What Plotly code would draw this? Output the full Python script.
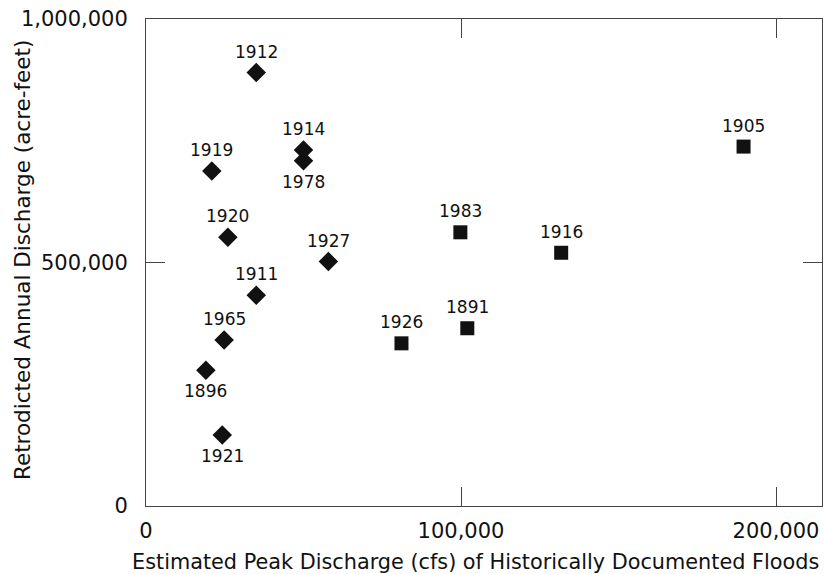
import plotly.graph_objects as go

# Diamonds
d_years = ["1912", "1914", "1978", "1919", "1920", "1927", "1911", "1965", "1896", "1921"]
d_peak = [35000, 50000, 50000, 20900, 26000, 57900, 35000, 24800, 19000, 24200]
d_annual = [890000, 731000, 709000, 688000, 552000, 502000, 433000, 341000, 279000, 146000]
d_pos = ["above", "above", "below", "above", "above", "above", "above", "above", "below", "below"]

# Squares
s_years = ["1905", "1983", "1916", "1891", "1926"]
s_peak = [189700, 99800, 131800, 102000, 81100]
s_annual = [738000, 562000, 520000, 365000, 334000]
s_pos = ["above", "above", "above", "above", "above"]

x_ticks = [0, 100000, 200000]
x_labels = ["0", "100,000", "200,000"]
y_ticks = [0, 500000, 1000000]
y_labels = ["0", "500,000", "1,000,000"]

x_title = "Estimated Peak Discharge (cfs) of Historically Documented Floods"
y_title = "Retrodicted Annual Discharge (acre-feet)"

FONT = "DejaVu Sans"
INK = "#111111"

fig = go.Figure()
fig.add_trace(go.Scatter(x=d_peak, y=d_annual, mode="markers",
                         marker=dict(symbol="diamond", size=15, color=INK),
                         showlegend=False, hoverinfo="skip"))
fig.add_trace(go.Scatter(x=s_peak, y=s_annual, mode="markers",
                         marker=dict(symbol="square", size=14, color=INK),
                         showlegend=False, hoverinfo="skip"))

annotations = []
for yrs, xs, ys, pos in [(d_years, d_peak, d_annual, d_pos), (s_years, s_peak, s_annual, s_pos)]:
    for t, xv, yv, p in zip(yrs, xs, ys, pos):
        annotations.append(dict(x=xv, y=yv, xref="x", yref="y", text=t, showarrow=False,
                                yshift=21 if p == "above" else -21,
                                font=dict(family=FONT, size=17, color=INK)))

# axis titles
annotations.append(dict(x=0.487, y=0, xref="paper", yref="paper", text=x_title,
                        showarrow=False, xanchor="center", yanchor="middle", yshift=-56,
                        font=dict(family=FONT, size=20.8, color=INK)))
annotations.append(dict(x=0, y=0.505, xref="paper", yref="paper", text=y_title,
                        showarrow=False, xanchor="center", yanchor="middle", xshift=-124,
                        textangle=-90, font=dict(family=FONT, size=21.5, color=INK)))

axis_common = dict(showline=True, linecolor="#444444", linewidth=1, mirror="ticks",
                   ticks="inside", ticklen=19, tickcolor="#444444", tickwidth=1,
                   showgrid=False, zeroline=False, automargin=False,
                   tickfont=dict(family=FONT, size=21, color=INK))

fig.update_layout(
    width=826, height=574,
    margin=dict(l=146, r=4, t=19, b=68),
    paper_bgcolor="white", plot_bgcolor="white",
    xaxis=dict(range=[0, 214600], tickvals=x_ticks, ticktext=x_labels,
               ticklabelstandoff=6, **axis_common),
    yaxis=dict(range=[0, 1000000], tickvals=y_ticks, ticktext=y_labels,
               ticklabelstandoff=13, **axis_common),
    annotations=annotations,
)

fig.write_html("out.html", config={"displayModeBar": False},
               post_script="document.body.style.margin='0';document.body.style.padding='0';")
